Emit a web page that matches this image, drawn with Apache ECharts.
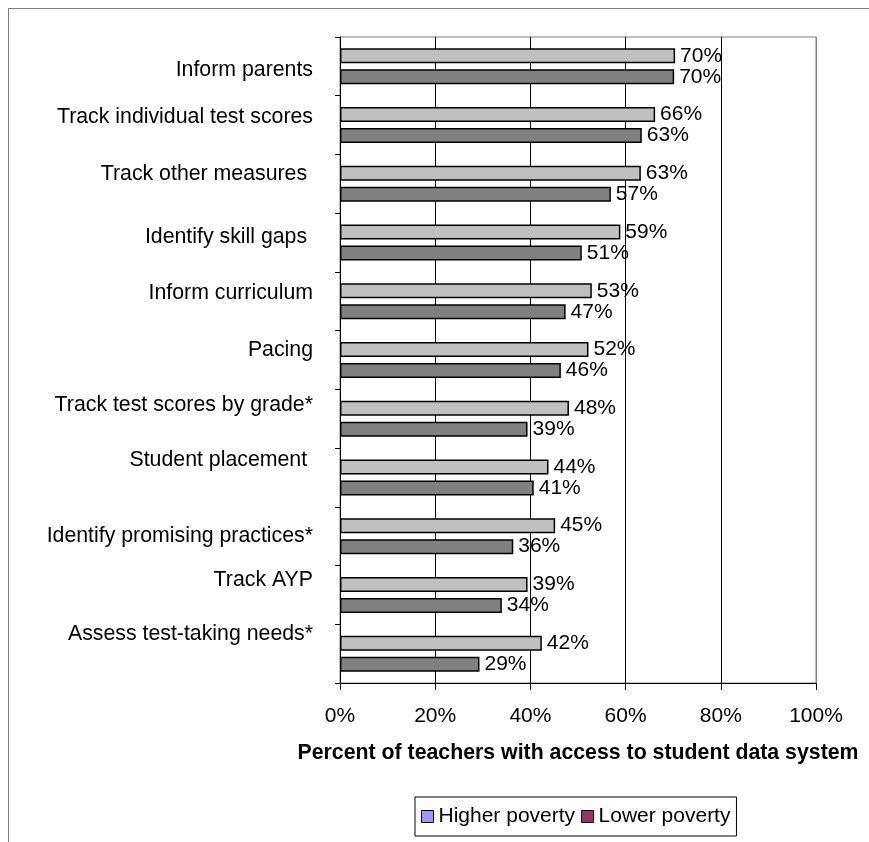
<!DOCTYPE html>
<html>
<head>
<meta charset="utf-8">
<script src="https://cdn.jsdelivr.net/npm/echarts@6/dist/echarts.min.js"></script>
<style>
html,body{margin:0;padding:0;background:#fff;}
#frame{position:absolute;left:8px;top:8px;width:900px;height:900px;border-left:1px solid #808080;border-top:1px solid #808080;}
#chart{position:absolute;left:0;top:0;width:869px;height:842px;}
</style>
</head>
<body>
<div id="frame"></div>
<div id="chart"></div>
<script>
var categories = ['Inform parents','Track individual test scores','Track other measures ','Identify skill gaps ','Inform curriculum','Pacing','Track test scores by grade*','Student placement ','Identify promising practices*','Track AYP','Assess test-taking needs*'];
var higherPoverty = [70.4,66.2,63.2,58.9,52.9,52.2,48.1,43.8,45.2,39.4,42.4];
var lowerPoverty = [70.2,63.4,56.9,50.8,47.4,46.4,39.4,40.7,36.4,34.0,29.3];
var xTicks = [0,20,40,60,80,100];

// visual nudge of category labels (pixels upward), style only
var labelNudge = [-4,8,10,5,8,10,14,17,0,15,20];

var rich = {t:{fontSize:21.3,lineHeight:24,color:'#000'}};
labelNudge.forEach(function(n,i){
  rich['g'+i] = {fontSize:1,lineHeight:Math.max(1,Math.abs(2*n))};
});

var chart = echarts.init(document.getElementById('chart'));
var font = 'Liberation Sans, Arial, sans-serif';
chart.setOption({
  animation:false,
  backgroundColor:'transparent',
  textStyle:{fontFamily:font},
  grid:{left:340,right:53,top:37,bottom:159,show:true,borderColor:'#808080',borderWidth:1,containLabel:false},
  legend:{
    top:797,left:415,
    orient:'horizontal',
    itemWidth:12,itemHeight:12,itemGap:6,
    padding:[9,6,9,6],
    borderColor:'#000',borderWidth:1,
    textStyle:{fontSize:21,color:'#000',fontFamily:font},
    icon:'rect',
    data:[
      {name:'Higher poverty',itemStyle:{color:'#9999ff',borderColor:'#000',borderWidth:1}},
      {name:'Lower poverty',itemStyle:{color:'#993366',borderColor:'#000',borderWidth:1}}
    ]
  },
  xAxis:{
    type:'value',min:xTicks[0],max:xTicks[xTicks.length-1],interval:xTicks[1]-xTicks[0],
    name:'Percent of teachers with access to student data system',
    nameLocation:'middle',nameGap:60,
    nameTextStyle:{fontSize:21.3,fontWeight:'bold',color:'#000',fontFamily:font},
    axisLine:{show:true,lineStyle:{color:'#000',width:1}},
    axisTick:{show:true,length:7,lineStyle:{color:'#000'}},
    axisLabel:{fontSize:21,color:'#000',margin:23,formatter:function(v){return v+'%';},fontFamily:font},
    splitLine:{show:true,lineStyle:{color:['#000','#000','#000','#000','#000','#808080'],width:1}}
  },
  yAxis:{
    type:'category',inverse:true,data:categories,
    axisLine:{show:true,lineStyle:{color:'#000',width:1}},
    axisTick:{show:true,length:5,inside:false,lineStyle:{color:'#000'}},
    axisLabel:{
      fontSize:21,color:'#000',margin:27,fontFamily:font,
      formatter:function(v,i){
        var n = labelNudge[i] || 0;
        if (n > 0) return '{t|'+v+'}\n{g'+i+'| }';
        if (n < 0) return '{g'+i+'| }\n{t|'+v+'}';
        return '{t|'+v+'}';
      },
      rich:rich
    },
    splitLine:{show:false}
  },
  series:[
    {name:'Higher poverty',type:'bar',data:higherPoverty,barWidth:15,barGap:'40%',
     itemStyle:{color:'#c0c0c0',borderColor:'#000',borderWidth:1.5},
     label:{show:true,position:'right',distance:5,fontSize:21,color:'#000',fontFamily:font,
       formatter:function(p){return Math.round(p.value)+'%';}}},
    {name:'Lower poverty',type:'bar',data:lowerPoverty,barWidth:15,barGap:'40%',
     itemStyle:{color:'#808080',borderColor:'#000',borderWidth:1.5},
     label:{show:true,position:'right',distance:5,fontSize:21,color:'#000',fontFamily:font,
       formatter:function(p){return Math.round(p.value)+'%';}}}
  ]
});
</script>
</body>
</html>
